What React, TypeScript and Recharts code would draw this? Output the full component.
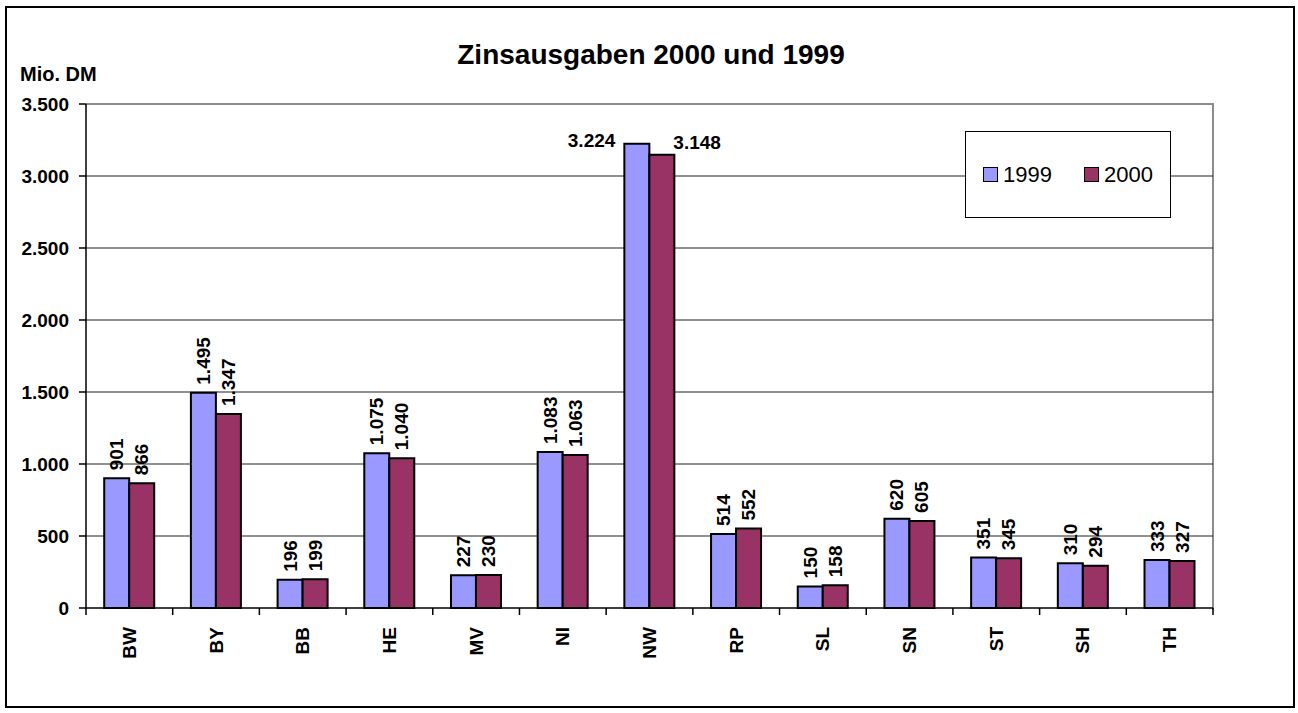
import React from 'react';
import { BarChart, Bar, XAxis, YAxis, CartesianGrid, LabelList } from 'recharts';

const states = ['BW', 'BY', 'BB', 'HE', 'MV', 'NI', 'NW', 'RP', 'SL', 'SN', 'ST', 'SH', 'TH'];
const interest1999 = [901, 1495, 196, 1075, 227, 1083, 3224, 514, 150, 620, 351, 310, 333];
const interest2000 = [866, 1347, 199, 1040, 230, 1063, 3148, 552, 158, 605, 345, 294, 327];
const seriesNames = ['1999', '2000'];
const yTicks = [0, 500, 1000, 1500, 2000, 2500, 3000, 3500];

const data = states.map((name, i) => ({ name, y1999: interest1999[i], y2000: interest2000[i] }));

const FONT = '"Liberation Sans", Arial, sans-serif';
const COLORS = ['#9999FF', '#993366'];
const LABEL_SIZE = 19;

// German thousands separator: 1495 -> 1.495
const fmt = (v: number) => String(v).replace(/\B(?=(\d{3})+(?!\d))/g, '.');

const BAND = 1127 / states.length;

const XTick = (props: any) => {
  const { x, y, payload, index } = props;
  const top = y - 8;
  return (
    <g>
      <line x1={x - BAND / 2} y1={top} x2={x - BAND / 2} y2={top + 7} stroke="#000" strokeWidth={1.5} />
      {index === states.length - 1 && (
        <line x1={x + BAND / 2} y1={top} x2={x + BAND / 2} y2={top + 7} stroke="#000" strokeWidth={1.5} />
      )}
      <text
        transform={`translate(${x},${top + 19}) rotate(-90)`}
        textAnchor="end"
        dominantBaseline="central"
        fontFamily={FONT}
        fontSize={LABEL_SIZE}
        fontWeight="bold"
        fill="#000"
      >
        {payload.value}
      </text>
    </g>
  );
};

// values sit rotated above each bar; the tall NW pair gets horizontal labels beside the bars
const valueLabel = (series: '1999' | '2000') => (props: any) => {
  const { x, y, width, value, index } = props;
  const cx = x + width / 2;
  if (states[index] === 'NW') {
    return series === '1999' ? (
      <text x={x - 9} y={y - 3} textAnchor="end" dominantBaseline="central" fontFamily={FONT} fontSize={LABEL_SIZE} fontWeight="bold" fill="#000">
        {fmt(value)}
      </text>
    ) : (
      <text x={x + width - 1} y={y - 12} textAnchor="start" dominantBaseline="central" fontFamily={FONT} fontSize={LABEL_SIZE} fontWeight="bold" fill="#000">
        {fmt(value)}
      </text>
    );
  }
  return (
    <text
      transform={`translate(${cx},${y - 8}) rotate(-90)`}
      textAnchor="start"
      dominantBaseline="central"
      fontFamily={FONT}
      fontSize={LABEL_SIZE}
      fontWeight="bold"
      fill="#000"
    >
      {fmt(value)}
    </text>
  );
};

const LegendBox = () => (
  <div
    style={{
      position: 'absolute',
      left: 965,
      top: 131,
      width: 204,
      height: 85,
      border: '1px solid #000',
      background: '#fff',
      display: 'flex',
      alignItems: 'center',
      fontFamily: FONT,
      fontSize: 22,
      color: '#000',
    }}
  >
    {seriesNames.map((label, i) => (
      <div key={label} style={{ display: 'flex', alignItems: 'center', marginLeft: i === 0 ? 17 : 32 }}>
        <span style={{ width: 13, height: 13, background: COLORS[i], border: '1.5px solid #000', marginRight: 5 }} />
        <span>{label}</span>
      </div>
    ))}
  </div>
);

export default function App() {
  return (
    <div style={{ position: 'absolute', left: 0, top: 0, width: 1298, height: 713, background: '#fff' }}>
      <div style={{ position: 'absolute', left: 5, top: 6, width: 1286, height: 698, border: '2px solid #000' }} />
      <div style={{ position: 'absolute', left: 86, top: 103, width: 1126, height: 505, borderTop: '2px solid #8c8c8c', borderRight: '2px solid #8c8c8c' }} />
      <div style={{ position: 'absolute', left: 0, width: 1298, top: 39, textAlign: 'center', fontFamily: FONT, fontSize: 28, fontWeight: 'bold', lineHeight: '32px', paddingLeft: 2 }}>
        Zinsausgaben 2000 und 1999
      </div>
      <div style={{ position: 'absolute', left: 20, top: 63, fontFamily: FONT, fontSize: 20, fontWeight: 'bold', lineHeight: '22px' }}>
        Mio. DM
      </div>
      <div style={{ position: 'absolute', left: 0, top: 0 }}>
        <BarChart
          width={1298}
          height={713}
          data={data}
          margin={{ top: 104, right: 85, bottom: 45, left: 0 }}
          barCategoryGap="21%"
          barGap={0}
        >
          <CartesianGrid vertical={false} horizontalValues={[500, 1000, 1500, 2000, 2500, 3000]} stroke="#222" strokeWidth={1} />
          <XAxis
            dataKey="name"
            height={60}
            axisLine={{ stroke: '#000', strokeWidth: 1.5 }}
            tickLine={false}
            tick={<XTick />}
            interval={0}
          />
          <YAxis
            width={86}
            domain={[0, 3500]}
            ticks={yTicks}
            interval={0}
            tickFormatter={fmt}
            tickSize={7}
            tickMargin={10}
            axisLine={{ stroke: '#000', strokeWidth: 1.5 }}
            tickLine={{ stroke: '#000', strokeWidth: 1.5 }}
            tick={{ fontFamily: FONT, fontSize: LABEL_SIZE, fontWeight: 'bold', fill: '#000' }}
          />
          <Bar dataKey="y1999" name={seriesNames[0]} fill={COLORS[0]} stroke="#000" strokeWidth={2} isAnimationActive={false}>
            <LabelList dataKey="y1999" content={valueLabel('1999')} />
          </Bar>
          <Bar dataKey="y2000" name={seriesNames[1]} fill={COLORS[1]} stroke="#000" strokeWidth={2} isAnimationActive={false}>
            <LabelList dataKey="y2000" content={valueLabel('2000')} />
          </Bar>
        </BarChart>
      </div>
      <LegendBox />
    </div>
  );
}
